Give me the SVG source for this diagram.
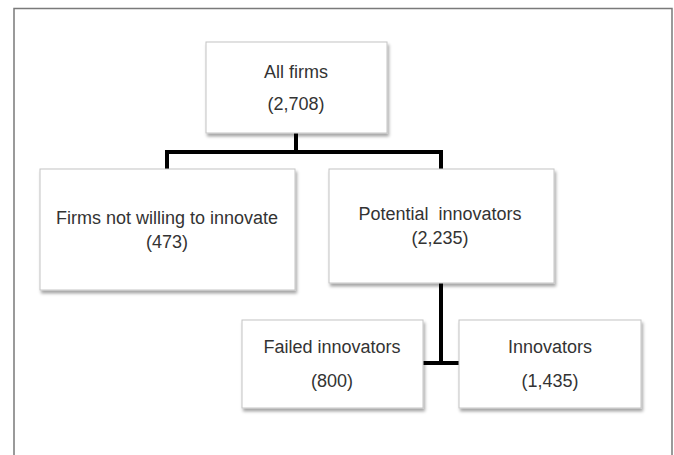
<svg xmlns="http://www.w3.org/2000/svg" width="674" height="455" viewBox="0 0 674 455">
<style>
.box{fill:#fff;stroke:#c4c4c4;stroke-width:1;filter:url(#sh)}
.t{font-family:"Liberation Sans",Arial,sans-serif;font-size:18px;fill:#333;text-anchor:middle}
.c{stroke:#000;stroke-width:4;fill:none;stroke-linecap:butt}
</style>
<defs>
<filter id="sh" x="-10%" y="-10%" width="125%" height="130%">
<feDropShadow dx="1.5" dy="3" stdDeviation="1.8" flood-color="#000" flood-opacity="0.35"/>
</filter>
</defs>
<rect width="674" height="455" fill="#fff"/>
<path d="M14 456 V8.5 H672 V456" fill="none" stroke="#7a7a7a" stroke-width="1.5"/>
<g id="connectors">
<path class="c" d="M296 133 V152"/>
<path class="c" d="M165 152 H443"/>
<path class="c" d="M167 150 V169"/>
<path class="c" d="M441 150 V169"/>
<path class="c" d="M441 283 V363"/>
<path class="c" d="M423 363 H459"/>
</g>
<g id="all-firms">
<rect class="box" x="206" y="42" width="181" height="91"/>
<text class="t" x="296" y="78">All firms</text>
<text class="t" x="296" y="110">(2,708)</text>
</g>
<g id="not-willing">
<rect class="box" x="40" y="169" width="255" height="121"/>
<text class="t" x="167" y="224">Firms not willing to innovate</text>
<text class="t" x="167" y="248">(473)</text>
</g>
<g id="potential">
<rect class="box" x="329" y="169" width="225" height="114"/>
<text class="t" x="440" y="220" xml:space="preserve">Potential  innovators</text>
<text class="t" x="440" y="244">(2,235)</text>
</g>
<g id="failed">
<rect class="box" x="242" y="320" width="181" height="88"/>
<text class="t" x="332" y="353">Failed innovators</text>
<text class="t" x="332" y="387">(800)</text>
</g>
<g id="innovators">
<rect class="box" x="459" y="320" width="182" height="88"/>
<text class="t" x="550" y="353">Innovators</text>
<text class="t" x="550" y="387">(1,435)</text>
</g>
</svg>
